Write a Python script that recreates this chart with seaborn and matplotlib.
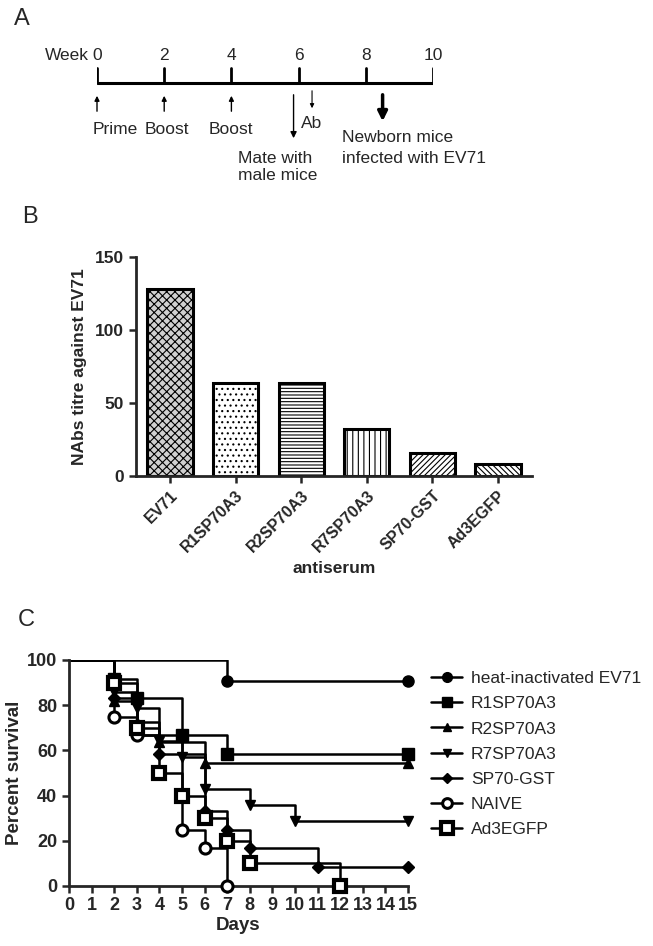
import matplotlib
matplotlib.use("Agg")
import matplotlib.pyplot as plt
from matplotlib.lines import Line2D
import seaborn as sns
import pandas as pd

# Panel A: immunisation schedule
weeks = [0, 2, 4, 6, 8, 10]
up_events = [(0, "Prime"), (2, "Boost"), (4, "Boost")]

# Panel B: neutralising antibody titres
antisera = ["EV71", "R1SP70A3", "R2SP70A3", "R7SP70A3", "SP70-GST", "Ad3EGFP"]
titres = [128, 64, 64, 32, 16, 8]
hatches = ["xxxx", "...", "-----", "|||", "//////", "\\\\\\\\\\\\"]

# Panel C: survival curves (day, percent)
groups = ["heat-inactivated EV71", "R1SP70A3", "R2SP70A3", "R7SP70A3",
          "SP70-GST", "NAIVE", "Ad3EGFP"]
days = {
    "heat-inactivated EV71": [0, 7, 15],
    "R1SP70A3": [0, 2, 3, 5, 7, 15],
    "R2SP70A3": [0, 2, 3, 4, 6, 15],
    "R7SP70A3": [0, 2, 3, 4, 5, 6, 8, 10, 15],
    "SP70-GST": [0, 2, 3, 4, 6, 7, 8, 11, 15],
    "NAIVE": [0, 2, 3, 5, 6, 7],
    "Ad3EGFP": [0, 2, 3, 4, 5, 6, 7, 8, 12],
}
survival = {
    "heat-inactivated EV71": [100, 90.9, 90.9],
    "R1SP70A3": [100, 91.7, 83.3, 66.7, 58.3, 58.3],
    "R2SP70A3": [100, 81.8, 72.7, 63.6, 54.5, 54.5],
    "R7SP70A3": [100, 85.7, 78.6, 64.3, 57.1, 42.9, 35.7, 28.6, 28.6],
    "SP70-GST": [100, 83.3, 66.7, 58.3, 33.3, 25, 16.7, 8.3, 8.3],
    "NAIVE": [100, 75, 66.7, 25, 16.7, 0],
    "Ad3EGFP": [100, 90, 70, 50, 40, 30, 20, 10, 0],
}
markers = {
    "heat-inactivated EV71": dict(marker="o", mfc="black", ms=8),
    "R1SP70A3": dict(marker="s", mfc="black", ms=8),
    "R2SP70A3": dict(marker="^", mfc="black", ms=7),
    "R7SP70A3": dict(marker="v", mfc="black", ms=7),
    "SP70-GST": dict(marker="D", mfc="black", ms=6),
    "NAIVE": dict(marker="o", mfc="white", ms=8, mew=2.2),
    "Ad3EGFP": dict(marker="s", mfc="white", ms=9, mew=3),
}

sns.set_style("ticks")
plt.rcParams["font.family"] = ["Liberation Sans", "DejaVu Sans"]

W, H = 653, 946
fig = plt.figure(figsize=(W / 100, H / 100), dpi=100)


def px_axes(x0, x1, y_top, y_bot):
    return fig.add_axes([x0 / W, 1 - y_bot / H, (x1 - x0) / W, (y_bot - y_top) / H])


def wk(px):
    # pixel column -> week units on the timeline
    return (px - 97) / 33.6


# ---------- Panel A ----------
axA = px_axes(97, 433, 0, 210)
axA.set_xlim(0, 10)
axA.set_ylim(210, 0)
axA.axis("off")
axA.plot([0, 10], [83, 83], color="black", lw=2.2, solid_capstyle="butt")
for w in weeks:
    axA.plot([w, w], [83, 68], color="black", lw=2)
    axA.text(w, 56, str(w), ha="center", va="center", fontsize=12.5)
axA.text(-0.25, 56, "Week", ha="right", va="center", fontsize=12.5)
for w, lab in up_events:
    axA.annotate("", xy=(w, 93), xytext=(w, 114),
                 arrowprops=dict(arrowstyle="-|>", color="black", lw=1,
                                 mutation_scale=7))
lab_x = [wk(93), wk(145), wk(209)]
for x, (w, lab) in zip(lab_x, up_events):
    axA.text(x, 130, lab, ha="left", va="center", fontsize=12.5)
axA.annotate("", xy=(5.85, 141), xytext=(5.85, 92),
             arrowprops=dict(arrowstyle="-|>", color="black", lw=1,
                             mutation_scale=9))
axA.text(wk(238), 167, "Mate with\nmale mice", ha="left", va="center",
         fontsize=12.5, linespacing=1.2)
axA.annotate("", xy=(6.4, 111), xytext=(6.4, 88),
             arrowprops=dict(arrowstyle="-|>", color="black", lw=0.8,
                             mutation_scale=6))
axA.text(wk(312), 124, "Ab", ha="center", va="center", fontsize=12.5)
axA.annotate("", xy=(8.5, 124), xytext=(8.5, 92),
             arrowprops=dict(arrowstyle="-|>", color="black", lw=2.5,
                             mutation_scale=14))
axA.text(wk(342), 148, "Newborn mice\ninfected with EV71", ha="left",
         va="center", fontsize=12.5, linespacing=1.45)
fig.text(14 / W, 1 - 19 / H, "A", fontsize=17, va="center")

# ---------- Panel B ----------
plt.rcParams["hatch.linewidth"] = 0.8
axB = px_axes(136, 532, 257, 476)
dfB = pd.DataFrame({"antiserum": antisera, "titre": titres})
sns.barplot(data=dfB, x="antiserum", y="titre", color="white",
            edgecolor="black", linewidth=2.2, width=0.69, ax=axB)
for bar, h in zip(axB.patches, hatches):
    bar.set_hatch(h)
axB.patches[0].set_facecolor("#d0d0d0")
axB.set_xlim(-0.52, 5.52)
axB.set_ylim(0, 150)
axB.set_yticks([0, 50, 100, 150])
sns.despine(ax=axB)
for s in ["left", "bottom"]:
    axB.spines[s].set_linewidth(2)
axB.tick_params(width=1.8, length=5, labelsize=12.5)
for lab in axB.get_yticklabels():
    lab.set_fontweight("bold")
axB.set_xticks(range(len(antisera)))
axB.set_xticklabels(antisera, rotation=45, ha="right", rotation_mode="anchor",
                    fontsize=11.5, fontweight="bold")
axB.set_ylabel("NAbs titre against EV71", fontsize=12.5, fontweight="bold",
               labelpad=6)
axB.set_xlabel("antiserum", fontsize=12.5, fontweight="bold", labelpad=4)
fig.text(22 / W, 1 - 217 / H, "B", fontsize=17, va="center")

# ---------- Panel C ----------
axC = px_axes(69, 408, 660, 886)
for g in groups:
    df = pd.DataFrame({"day": days[g], "pct": survival[g]})
    sns.lineplot(data=df, x="day", y="pct", drawstyle="steps-post",
                 estimator=None, color="black", lw=1.8, ax=axC)
    m = markers[g]
    axC.plot(days[g][1:], survival[g][1:], ls="none", marker=m["marker"],
             mfc=m["mfc"], mec="black", ms=m["ms"], mew=m.get("mew", 1),
             clip_on=False, zorder=5)
axC.set_xlim(0, 15)
axC.set_ylim(0, 100)
axC.set_xticks(range(16))
axC.set_yticks(range(0, 101, 20))
sns.despine(ax=axC)
for s in ["left", "bottom"]:
    axC.spines[s].set_linewidth(2)
axC.tick_params(width=1.8, length=5, labelsize=13)
axC.tick_params(axis="x", pad=3)
for lab in axC.get_xticklabels() + axC.get_yticklabels():
    lab.set_fontweight("bold")
axC.set_xlabel("Days", fontsize=13.5, fontweight="bold", labelpad=2)
axC.set_ylabel("Percent survival", fontsize=13.5, fontweight="bold",
               labelpad=3)

handles = []
for g in groups:
    m = markers[g]
    handles.append(Line2D([], [], color="black", lw=1.8, marker=m["marker"],
                          mfc=m["mfc"], mec="black", ms=m["ms"] - 1,
                          mew=m.get("mew", 1)))
fig.legend(handles, groups, loc="upper left",
           bbox_to_anchor=(424 / W, 1 - 664 / H), frameon=False,
           fontsize=12.5, handlelength=1.8, handletextpad=0.5,
           labelspacing=0.58, borderaxespad=0)
fig.text(18 / W, 1 - 620 / H, "C", fontsize=17, va="center")

fig.savefig("out.png", dpi=100)
